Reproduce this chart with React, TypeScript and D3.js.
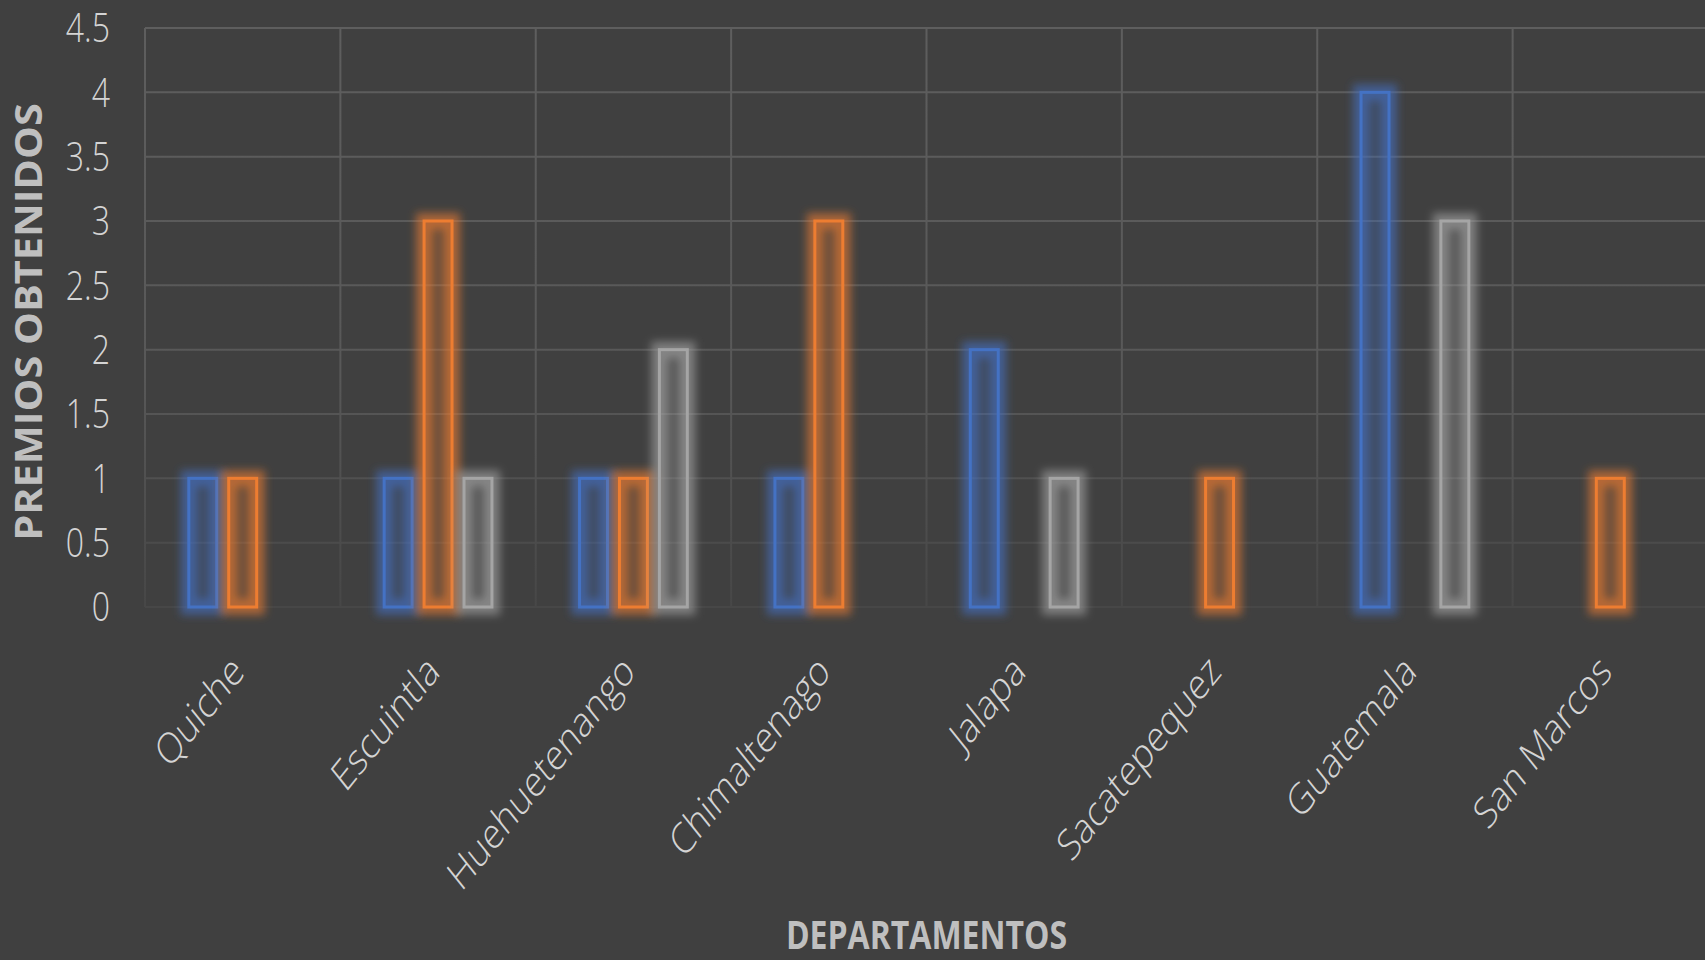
import React from "react";
import * as d3 from "d3";

// departamentos y premios por serie
const categories = ["Quiche", "Escuintla", "Huehuetenango", "Chimaltenago", "Jalapa", "Sacatepequez", "Guatemala", "San Marcos"];
const serie1 = [1, 1, 1, 1, 2, 0, 4, 0];
const serie2 = [1, 3, 1, 3, 0, 1, 0, 1];
const serie3 = [0, 1, 2, 0, 1, 0, 3, 0];
const seriesNames = ["Serie1", "Serie2", "Serie3"];
const seriesColors = ["#4472C4", "#ED7D31", "#A5A5A5"];
const yTicks = [0, 0.5, 1, 1.5, 2, 2.5, 3, 3.5, 4, 4.5];

const W = 1705;
const H = 960;
const left = 145;
const right = 1708;
const top = 28;
const bottom = 607;
const stretch = 1.25; // text in the picture is drawn taller than wide

export default function App() {
  const values = [serie1, serie2, serie3];

  const x0 = d3.scaleBand<string>().domain(categories).range([left, right]).padding(0);
  const x1 = d3.scaleBand<string>().domain(seriesNames).range([0, x0.bandwidth()])
    .paddingInner(0.225).paddingOuter(1.06);
  const y = d3.scaleLinear().domain([0, 4.5]).range([bottom, top]);

  const font = "'Open Sans', 'Noto Sans', sans-serif";

  return (
    <svg width={W} height={H} style={{ position: "fixed", left: 0, top: 0, display: "block" }}>
      <defs>
        <linearGradient id="gridFade" gradientUnits="userSpaceOnUse" x1="0" y1={top} x2="0" y2={bottom}>
          <stop offset="0" stopColor="#5e5e5e" />
          <stop offset="0.6" stopColor="#585858" />
          <stop offset="1" stopColor="#474747" />
        </linearGradient>
        <filter id="glow" x="-100%" y="-20%" width="300%" height="140%">
          <feGaussianBlur in="SourceGraphic" stdDeviation="4.5" />
        </filter>
      </defs>

      <rect width={W} height={H} fill="#404040" />

      {/* grid */}
      {yTicks.map(t => (
        <line key={"h" + t} x1={left} x2={W} y1={y(t)} y2={y(t)} stroke="url(#gridFade)" strokeWidth={2} />
      ))}
      {categories.map(c => (
        <line key={"v" + c} x1={x0(c)} x2={x0(c)} y1={top} y2={bottom} stroke="url(#gridFade)" strokeWidth={2} />
      ))}

      {/* bars: glow layer then outline */}
      {values.map((vals, si) => (
        <g key={si}>
          {vals.map((v, ci) => {
            if (v === 0) return null;
            const bx = x0(categories[ci])! + x1(seriesNames[si])!;
            const bw = x1.bandwidth() - 3;
            return (
              <g key={ci}>
                <rect x={bx + 1.5} y={y(v)} width={bw} height={y(0) - y(v)} fill={seriesColors[si]} fillOpacity={0.15}
                  stroke={seriesColors[si]} strokeOpacity={0.6} strokeWidth={16} filter="url(#glow)" />
                <rect x={bx + 1.5} y={y(v)} width={bw} height={y(0) - y(v)}
                  fill={seriesColors[si]} fillOpacity={0.12} stroke={seriesColors[si]} strokeWidth={3} />
              </g>
            );
          })}
        </g>
      ))}

      {/* y ticks */}
      {yTicks.map(t => (
        <text key={"yt" + t} transform={`translate(110,${y(t)}) scale(1,${stretch})`} dy="0.36em"
          textAnchor="end" fontFamily={font} fontWeight={300} fontSize={32} fill="#d4d4d4">{t}</text>
      ))}

      {/* x labels */}
      {categories.map(c => (
        <text key={"xl" + c} transform={`translate(${x0(c)! + x0.bandwidth() / 2 - 14},652) scale(1,${stretch}) rotate(-45)`}
          dy="0.72em" textAnchor="end" fontFamily={font} fontWeight={300} fontSize={34} fill="#d4d4d4">{c}</text>
      ))}

      {/* titles */}
      <text transform={`translate(42,322) scale(1,${stretch}) rotate(-90)`} textAnchor="middle"
        fontFamily={font} fontWeight={700} fontSize={38} fill="#bfbfbf" textLength={350} lengthAdjust="spacingAndGlyphs">
        PREMIOS OBTENIDOS
      </text>
      <text transform={`translate(${(left + right) / 2},949) scale(1,${stretch})`} textAnchor="middle"
        fontFamily={font} fontWeight={700} fontSize={32} fill="#bfbfbf">DEPARTAMENTOS</text>
    </svg>
  );
}
